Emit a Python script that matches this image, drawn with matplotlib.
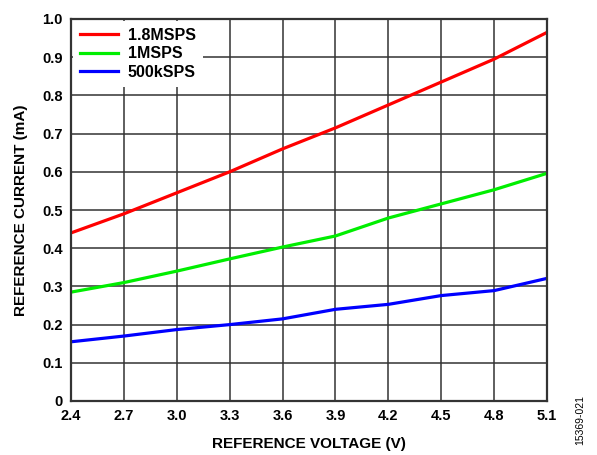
import numpy as np
import matplotlib
matplotlib.use('Agg')
import matplotlib.pyplot as plt

# reference voltage (V)
volts = [2.4, 2.7, 3.0, 3.3, 3.6, 3.9, 4.2, 4.5, 4.8, 5.1]
# reference current (mA)
i_18msps = [0.44, 0.49, 0.545, 0.60, 0.66, 0.715, 0.775, 0.835, 0.895, 0.965]
i_1msps = [0.285, 0.31, 0.34, 0.372, 0.403, 0.432, 0.479, 0.516, 0.553, 0.596]
i_500ksps = [0.155, 0.17, 0.187, 0.20, 0.215, 0.24, 0.253, 0.276, 0.289, 0.321]

xticks = [2.4, 2.7, 3.0, 3.3, 3.6, 3.9, 4.2, 4.5, 4.8, 5.1]
yticks = [0, 0.1, 0.2, 0.3, 0.4, 0.5, 0.6, 0.7, 0.8, 0.9, 1.0]

plt.rcParams['font.family'] = ['Liberation Sans', 'DejaVu Sans']
plt.rcParams['font.weight'] = 'bold'

fig = plt.figure(figsize=(5.97, 4.55), dpi=100)
ax = fig.add_axes([71/597, 1-401/455, 476/597, 382/455])

ax.plot(volts, i_18msps, color='#ff0000', lw=2.3, label='1.8MSPS')
ax.plot(volts, i_1msps, color='#00ee00', lw=2.3, label='1MSPS')
ax.plot(volts, i_500ksps, color='#0000ff', lw=2.3, label='500kSPS')

ax.set_xlim(2.4, 5.1)
ax.set_ylim(0, 1.0)
ax.set_xticks(xticks)
ax.set_xticklabels(['%.1f' % v for v in xticks], fontsize=10.5, fontweight='bold')
ax.set_yticks(yticks)
ax.set_yticklabels(['0'] + ['%.1f' % v for v in yticks[1:]], fontsize=10.5, fontweight='bold')
ax.tick_params(length=0, pad=6)
ax.grid(True, color='#333333', lw=1.1)
ax.set_axisbelow(True)
for s in ax.spines.values():
    s.set_linewidth(1.6)
    s.set_color('#333333')

ax.set_xlabel('REFERENCE VOLTAGE (V)', fontsize=11, fontweight='bold', labelpad=10)
ax.set_ylabel('REFERENCE CURRENT (mA)', fontsize=11, fontweight='bold', labelpad=10)

leg = ax.legend(loc='upper left', frameon=True, fancybox=False, edgecolor='none',
                framealpha=1, handlelength=2.4, handletextpad=0.6,
                borderaxespad=0.1, borderpad=0.45, labelspacing=0.22,
                prop={'weight': 'bold', 'size': 11.5})

fig.text(580/597, 1-420/455, '15369-021', rotation=90, fontsize=7.5,
         fontweight='normal', ha='center', va='center')

fig.savefig('out.png', dpi=100)
